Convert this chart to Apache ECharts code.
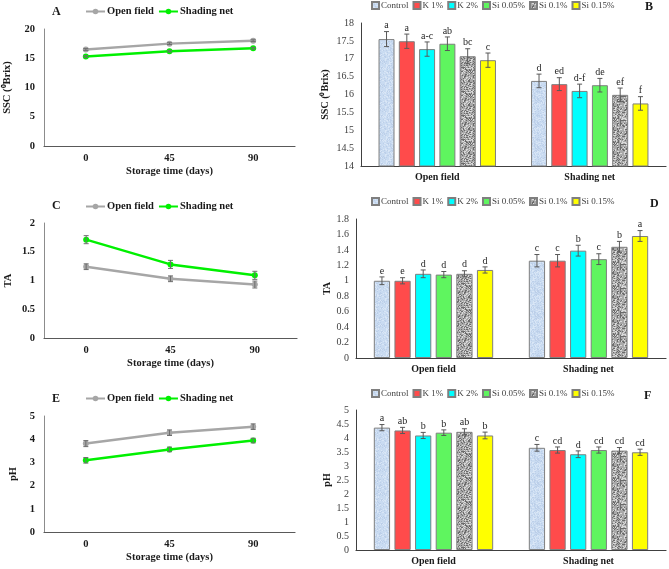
<!DOCTYPE html>
<html><head><meta charset="utf-8">
<script src="https://cdn.jsdelivr.net/npm/echarts@6/dist/echarts.min.js"></script>
<style>html,body{margin:0;padding:0;background:#fff}#c{width:669px;height:569px}</style>
</head><body><div id="c"></div>
<script>
// ---------- DATA ----------
const timeCats = ['0', '45', '90'];
const groupCats = ['Open field', 'Shading net'];
const treatments = ['Control', 'K 1%', 'K 2%', 'Si 0.05%', 'Si 0.1%', 'Si 0.15%'];

// Line panels (A, C, E)
const sscOpen = [16.5, 17.5, 18.0];
const sscShade = [15.3, 16.2, 16.7];
const sscOpenErr = [0.15, 0.15, 0.15];
const sscShadeErr = [0.15, 0.15, 0.15];

const taOpen = [1.24, 1.03, 0.93];
const taShade = [1.71, 1.28, 1.09];
const taOpenErr = [0.05, 0.05, 0.06];
const taShadeErr = [0.07, 0.07, 0.07];

const phOpen = [3.81, 4.28, 4.54];
const phShade = [3.09, 3.56, 3.94];
const phOpenErr = [0.13, 0.12, 0.12];
const phShadeErr = [0.12, 0.1, 0.1];

// Bar panels (B, D, F): per treatment [Open field, Shading net]
const sscBars = [[17.55, 16.38], [17.49, 16.29], [17.27, 16.10], [17.42, 16.26], [17.07, 15.99], [16.96, 15.75]];
const sscBarErr = [[0.21, 0.19], [0.2, 0.18], [0.2, 0.19], [0.19, 0.19], [0.21, 0.19], [0.2, 0.19]];
const sscLetters = [['a', 'd'], ['a', 'ed'], ['a-c', 'd-f'], ['ab', 'de'], ['bc', 'ef'], ['c', 'f']];

const taBars = [[1.00, 1.26], [1.00, 1.26], [1.09, 1.39], [1.08, 1.28], [1.09, 1.44], [1.14, 1.58]];
const taBarErr = [[0.05, 0.08], [0.04, 0.08], [0.05, 0.07], [0.04, 0.07], [0.04, 0.07], [0.04, 0.07]];
const taLetters = [['e', 'c'], ['e', 'c'], ['d', 'b'], ['d', 'c'], ['d', 'b'], ['d', 'a']];

const phBars = [[4.37, 3.65], [4.27, 3.57], [4.09, 3.42], [4.19, 3.57], [4.22, 3.55], [4.09, 3.49]];
const phBarErr = [[0.11, 0.12], [0.11, 0.11], [0.11, 0.12], [0.1, 0.11], [0.11, 0.11], [0.12, 0.11]];
const phLetters = [['a', 'c'], ['ab', 'cd'], ['b', 'd'], ['b', 'cd'], ['ab', 'cd'], ['b', 'cd']];

// ---------- STYLE ----------
const SERIF = '"Liberation Serif","Times New Roman",serif';
const GRAY_LINE = '#a6a6a6';
const GREEN_LINE = '#00f000';

function hash(x, y, s) {
  const v = Math.sin(x * 12.9898 + y * 78.233 + s * 37.719) * 43758.5453;
  return v - Math.floor(v);
}
function makePattern(base, dark, light, pd, pl, seed) {
  const cv = document.createElement('canvas');
  cv.width = 24; cv.height = 24;
  const ctx = cv.getContext('2d');
  ctx.fillStyle = base; ctx.fillRect(0, 0, 24, 24);
  for (let y = 0; y < 24; y++) for (let x = 0; x < 24; x++) {
    const h = hash(x, y, seed);
    if (h < pd) { ctx.fillStyle = dark; ctx.fillRect(x, y, 1, 1); }
    else if (h > 1 - pl) { ctx.fillStyle = light; ctx.fillRect(x, y, 1, 1); }
  }
  return { image: cv, repeat: 'repeat' };
}
const controlFill = makePattern('#c9dbf1', '#bccfe9', '#d9e6f6', 0.2, 0.2, 1);
const graniteFill = makePattern('#a9a9a9', '#6b6b6b', '#dadada', 0.22, 0.22, 2);
const barColors = [controlFill, '#ff4b4b', '#00ffff', '#5ff55f', graniteFill, '#ffff00'];

// ---------- LAYOUT ----------
const grids = [
  { left: 44, top: 29, width: 251, height: 117 },   // A
  { left: 361, top: 23, width: 305, height: 143 },  // B
  { left: 44, top: 223, width: 253, height: 115 },  // C
  { left: 356, top: 219, width: 310, height: 139 }, // D
  { left: 44, top: 416, width: 251, height: 116 },  // E
  { left: 356, top: 410, width: 310, height: 140 }  // F
];

const xAxes = [], yAxes = [], series = [];
const lineAxisCfg = [
  { g: 0, name: 'SSC (\u2070Brix)', min: 0, max: 20, interval: 5, nameGap: 31, open: sscOpen, shade: sscShade, oe: sscOpenErr, se: sscShadeErr },
  { g: 2, name: 'TA', min: 0, max: 2, interval: 0.5, nameGap: 30, open: taOpen, shade: taShade, oe: taOpenErr, se: taShadeErr },
  { g: 4, name: 'pH', min: 0, max: 5, interval: 1, nameGap: 25, open: phOpen, shade: phShade, oe: phOpenErr, se: phShadeErr }
];
const barAxisCfg = [
  { g: 1, name: 'SSC (\u2070Brix)', min: 14, max: 18, interval: 0.5, nameGap: 31, vals: sscBars, errs: sscBarErr, lets: sscLetters },
  { g: 3, name: 'TA', min: 0, max: 1.8, interval: 0.2, nameGap: 23, vals: taBars, errs: taBarErr, lets: taLetters },
  { g: 5, name: 'pH', min: 0, max: 5, interval: 0.5, nameGap: 22, vals: phBars, errs: phBarErr, lets: phLetters }
];

for (let g = 0; g < 6; g++) { xAxes.push(null); yAxes.push(null); }

function lineErrRender() {
  return function (params, api) {
    const x = api.value(0), v = api.value(1), e = api.value(2);
    const c = api.coord([x, v]);
    const yt = api.coord([x, v + e])[1], yb = api.coord([x, v - e])[1];
    const st = { stroke: '#6e6e6e', lineWidth: 1 };
    return { type: 'group', children: [
      { type: 'line', shape: { x1: c[0], y1: yt, x2: c[0], y2: yb }, style: st },
      { type: 'line', shape: { x1: c[0] - 2.5, y1: yt, x2: c[0] + 2.5, y2: yt }, style: st },
      { type: 'line', shape: { x1: c[0] - 2.5, y1: yb, x2: c[0] + 2.5, y2: yb }, style: st }
    ] };
  };
}

lineAxisCfg.forEach(cfg => {
  const g = cfg.g;
  xAxes[g] = {
    type: 'category', gridIndex: g, data: timeCats, boundaryGap: true,
    name: 'Storage time (days)', nameLocation: 'middle', nameGap: 20,
    nameTextStyle: { fontFamily: SERIF, fontWeight: 'bold', fontSize: 10.5, color: '#1a1a1a' },
    axisLine: { lineStyle: { color: '#595959', width: 1.2 } }, axisTick: { show: false },
    axisLabel: { fontFamily: SERIF, fontWeight: 'bold', fontSize: 10.5, color: '#1a1a1a', margin: 7 }
  };
  yAxes[g] = {
    type: 'value', gridIndex: g, min: cfg.min, max: cfg.max, interval: cfg.interval,
    name: cfg.name, nameLocation: 'middle', nameGap: cfg.nameGap,
    nameTextStyle: { fontFamily: SERIF, fontWeight: 'bold', fontSize: 10.5, color: '#1a1a1a' },
    axisLine: { show: true, lineStyle: { color: '#8c8c8c', width: 1 } }, axisTick: { show: false },
    splitLine: { show: false },
    axisLabel: { fontFamily: SERIF, fontWeight: 'bold', fontSize: 10.5, color: '#1a1a1a', margin: 9 }
  };
  [['Open field', cfg.open, cfg.oe, GRAY_LINE], ['Shading net', cfg.shade, cfg.se, GREEN_LINE]].forEach(([nm, vals, errs, col]) => {
    series.push({
      type: 'line', name: nm, xAxisIndex: g, yAxisIndex: g, data: vals,
      symbol: 'circle', symbolSize: 6, lineStyle: { color: col, width: 2.5 },
      itemStyle: { color: col }, z: 3
    });
    series.push({
      type: 'custom', xAxisIndex: g, yAxisIndex: g, z: 4, silent: true,
      data: vals.map((v, i) => [i, v, errs[i]]),
      renderItem: lineErrRender()
    });
  });
});

const CAT_GAP = 0.23, BAR_GAP = 0.27;
function barErrRender(ti, lets) {
  return function (params, api) {
    const x = api.value(0), v = api.value(1), e = api.value(2);
    const band = api.size([1, 0])[0];
    const bw = band * (1 - CAT_GAP) / (6 + 5 * BAR_GAP);
    const total = 6 * bw + 5 * BAR_GAP * bw;
    const off = -total / 2 + bw / 2 + ti * bw * (1 + BAR_GAP);
    const c = api.coord([x, v]);
    const cx = c[0] + off;
    const yt = api.coord([x, v + e])[1], yb = api.coord([x, v - e])[1];
    const st = { stroke: '#595959', lineWidth: 1 };
    return { type: 'group', children: [
      { type: 'line', shape: { x1: cx, y1: yt, x2: cx, y2: yb }, style: st },
      { type: 'line', shape: { x1: cx - 2.5, y1: yt, x2: cx + 2.5, y2: yt }, style: st },
      { type: 'line', shape: { x1: cx - 2.5, y1: yb, x2: cx + 2.5, y2: yb }, style: st },
      { type: 'text', x: cx, y: yt - 1, style: { text: lets[ti][params.dataIndex], fill: '#262626', font: '10px ' + SERIF, align: 'center', verticalAlign: 'bottom' } }
    ] };
  };
}

barAxisCfg.forEach(cfg => {
  const g = cfg.g;
  xAxes[g] = {
    type: 'category', gridIndex: g, data: groupCats, boundaryGap: true,
    axisLine: { lineStyle: { color: '#404040', width: 1.2 } }, axisTick: { show: false },
    axisLabel: { fontFamily: SERIF, fontWeight: 'bold', fontSize: 10, color: '#1a1a1a', margin: 6 }
  };
  yAxes[g] = {
    type: 'value', gridIndex: g, min: cfg.min, max: cfg.max, interval: cfg.interval,
    name: cfg.name, nameLocation: 'middle', nameGap: cfg.nameGap,
    nameTextStyle: { fontFamily: SERIF, fontWeight: 'bold', fontSize: 10, color: '#1a1a1a' },
    axisLine: { show: true, lineStyle: { color: '#404040', width: 1 } }, axisTick: { show: false },
    splitLine: { show: false },
    axisLabel: { fontFamily: SERIF, fontSize: 10, color: '#404040', margin: 7 }
  };
  treatments.forEach((t, ti) => {
    series.push({
      type: 'bar', name: t, xAxisIndex: g, yAxisIndex: g,
      data: cfg.vals[ti].slice(),
      barCategoryGap: (CAT_GAP * 100) + '%', barGap: (BAR_GAP * 100) + '%',
      itemStyle: { color: barColors[ti], borderColor: '#7f7f7f', borderWidth: 1 }, z: 2
    });
    series.push({
      type: 'custom', xAxisIndex: g, yAxisIndex: g, z: 5, silent: true,
      data: cfg.vals[ti].map((v, i) => [i, v, cfg.errs[ti][i]]),
      renderItem: barErrRender(ti, cfg.lets)
    });
  });
});

const lineLegendTops = [6, 201, 393];
const barLegendTops = [1, 197, 389];
const legends = [];
lineLegendTops.forEach(t => legends.push({
  data: ['Open field', 'Shading net'], left: 85, top: t, padding: 0,
  itemWidth: 19, itemHeight: 7, itemGap: 4,
  textStyle: { fontFamily: SERIF, fontWeight: 'bold', fontSize: 10.5, color: '#1a1a1a', padding: [0, 0, 0, -3] },
  selectedMode: false
}));
barLegendTops.forEach(t => legends.push({
  data: treatments, left: 371, top: t, padding: 0, icon: 'rect',
  itemWidth: 7, itemHeight: 7, itemGap: 4,
  textStyle: { fontFamily: SERIF, fontSize: 9, color: '#404040', padding: [0, 0, 0, -3] },
  selectedMode: false
}));

const letterStyle = { fontFamily: SERIF, fontWeight: 'bold', fontSize: 12, color: '#1a1a1a' };
const titles = [
  { text: 'A', left: 52, top: 6 }, { text: 'B', left: 645, top: 1 },
  { text: 'C', left: 52, top: 200 }, { text: 'D', left: 650, top: 198 },
  { text: 'E', left: 52, top: 393 }, { text: 'F', left: 644, top: 390 }
].map(o => Object.assign(o, { padding: 0, textStyle: letterStyle }));

const chart = echarts.init(document.getElementById('c'), null, { renderer: 'canvas' });
chart.setOption({
  animation: false,
  backgroundColor: '#ffffff',
  title: titles,
  legend: legends,
  grid: grids,
  xAxis: xAxes,
  yAxis: yAxes,
  series: series
});
</script>
</body></html>
